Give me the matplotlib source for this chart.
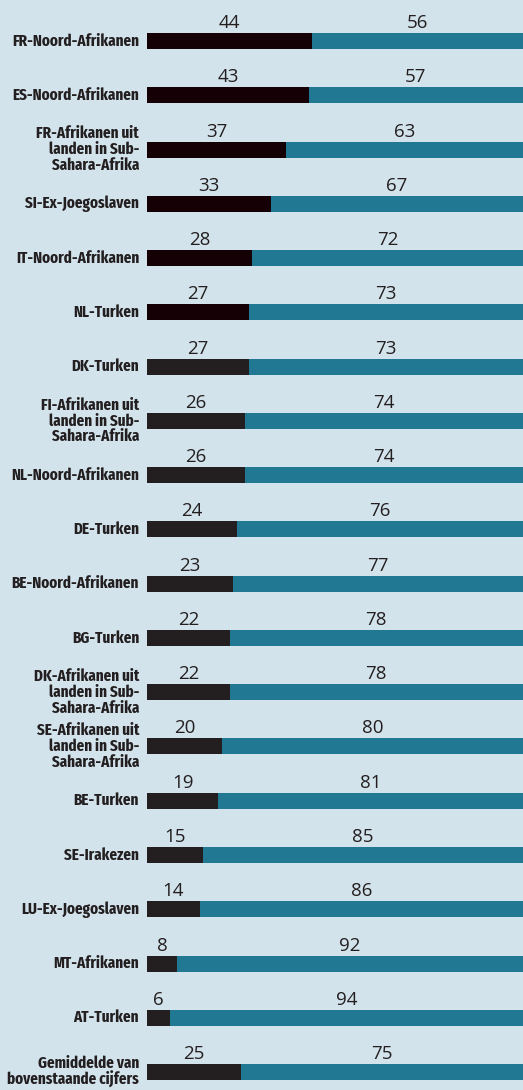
import matplotlib
matplotlib.use("Agg")
import matplotlib.pyplot as plt
import numpy as np

groups = [
    "FR-Noord-Afrikanen",
    "ES-Noord-Afrikanen",
    "FR-Afrikanen uit\nlanden in Sub-\nSahara-Afrika",
    "SI-Ex-Joegoslaven",
    "IT-Noord-Afrikanen",
    "NL-Turken",
    "DK-Turken",
    "FI-Afrikanen uit\nlanden in Sub-\nSahara-Afrika",
    "NL-Noord-Afrikanen",
    "DE-Turken",
    "BE-Noord-Afrikanen",
    "BG-Turken",
    "DK-Afrikanen uit\nlanden in Sub-\nSahara-Afrika",
    "SE-Afrikanen uit\nlanden in Sub-\nSahara-Afrika",
    "BE-Turken",
    "SE-Irakezen",
    "LU-Ex-Joegoslaven",
    "MT-Afrikanen",
    "AT-Turken",
    "Gemiddelde van\nbovenstaande cijfers",
]
ja = [44, 43, 37, 33, 28, 27, 27, 26, 26, 24, 23, 22, 22, 20, 19, 15, 14, 8, 6, 25]
nee = [56, 57, 63, 67, 72, 73, 73, 74, 74, 76, 77, 78, 78, 80, 81, 85, 86, 92, 94, 75]

bg = "#d3e3eb"
teal = "#217893"
dark_top = "#150005"
dark = "#231f20"

fig = plt.figure(figsize=(5.23, 10.9), dpi=100)
fig.patch.set_facecolor(bg)
ax = fig.add_axes([147 / 523, 0, 1 - 147 / 523, 1])
ax.set_facecolor(bg)

y = np.arange(len(groups))
dark_cols = [dark_top if i < 6 else dark for i in range(len(groups))]
h = 0.295
ax.barh(y, ja, height=h, color=dark_cols, edgecolor="none")
ax.barh(y, nee, left=ja, height=h, color=teal, edgecolor="none")

num_font = dict(family=["Open Sans", "DejaVu Sans"], fontsize=13.5, color="#231f20")
lab_font = dict(family=["Fira Sans Extra Condensed", "DejaVu Sans"], stretch="condensed",
                fontweight="bold", fontsize=11.8, color="#231f20")
for i in range(len(groups)):
    ax.text(ja[i] / 2, y[i] - 0.24, str(ja[i]), ha="center", va="baseline", **num_font)
    ax.text(ja[i] + nee[i] / 2, y[i] - 0.24, str(nee[i]), ha="center", va="baseline", **num_font)
    ax.text(-2.1, y[i], groups[i], ha="right", va="center", linespacing=0.98,
            clip_on=False, **lab_font)

ax.set_xlim(0, 100)
ax.set_ylim(19.33, -0.756)
ax.axis("off")

fig.savefig("out.png", dpi=100, facecolor=bg)
